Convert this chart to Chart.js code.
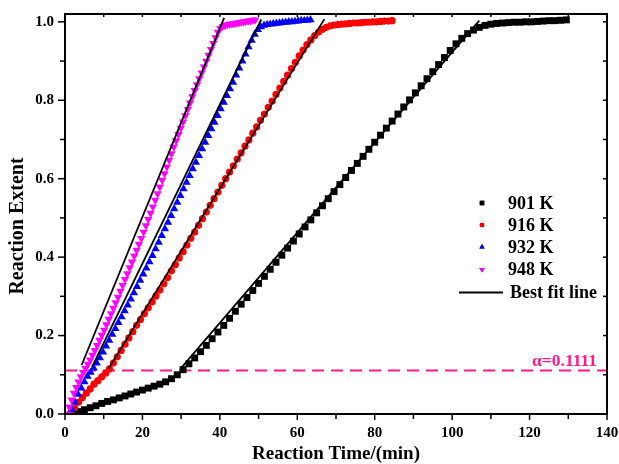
<!DOCTYPE html>
<html>
<head>
<meta charset="utf-8">
<script src="https://cdn.jsdelivr.net/npm/chart.js@4.4.0/dist/chart.umd.min.js"></script>
<style>
  html, body { margin: 0; padding: 0; background: #fff; }
  #wrap { width: 619px; height: 464px; position: relative; }
</style>
</head>
<body>
<div id="wrap"><canvas id="c"></canvas></div>
<script>
/* ===== 1. DATA ====================================================== */
const xRange = [0, 140];
const yRange = [0, 1.02];
const xTicks = [0, 10, 20, 30, 40, 50, 60, 70, 80, 90, 100, 110, 120, 130, 140];
const yTicks = [0, 0.1, 0.2, 0.3, 0.4, 0.5, 0.6, 0.7, 0.8, 0.9, 1.0];
const alphaLevel = 0.1111;
const seriesLabels = ['901 K', '916 K', '932 K', '948 K'];
const fitLabel = 'Best fit line';
const alphaLabel = 'α=0.1111';
const xTitle = 'Reaction Time/(min)';
const yTitle = 'Reaction Extent';

// [time (min), reaction extent]
const k901 = [
  [2.0,0.000],[3.5,0.006],[5.0,0.011],[6.5,0.016],[8.0,0.021],[9.5,0.027],[11.0,0.032],[12.5,0.036],
  [14.0,0.041],[15.5,0.046],[17.0,0.051],[18.5,0.056],[20.0,0.061],[21.5,0.066],[23.0,0.071],[24.5,0.076],
  [26.0,0.082],[27.5,0.090],[29.0,0.100],[30.5,0.113],[32.0,0.128],[33.5,0.143],[35.0,0.159],[36.5,0.175],
  [38.0,0.192],[39.5,0.209],[41.0,0.226],[42.5,0.244],[44.0,0.262],[45.5,0.280],[47.0,0.297],[48.5,0.315],
  [50.0,0.333],[51.5,0.351],[53.0,0.369],[54.5,0.387],[56.0,0.405],[57.5,0.423],[59.0,0.441],[60.5,0.459],
  [62.0,0.477],[63.5,0.495],[65.0,0.513],[66.5,0.531],[68.0,0.549],[69.5,0.567],[71.0,0.585],[72.5,0.603],
  [74.0,0.621],[75.5,0.639],[77.0,0.657],[78.5,0.675],[80.0,0.693],[81.5,0.711],[83.0,0.729],[84.5,0.747],
  [86.0,0.765],[87.5,0.783],[89.0,0.801],[90.5,0.819],[92.0,0.837],[93.5,0.855],[95.0,0.873],[96.5,0.891],
  [98.0,0.909],[99.5,0.927],[101.0,0.944],[102.5,0.958],[104.0,0.970],[105.5,0.979],[107.0,0.986],[108.5,0.991],
  [110.0,0.994],[111.5,0.996],[113.0,0.997],[114.5,0.998],[116.0,0.999],[117.5,0.999],[119.0,1.000],[120.5,1.000],
  [122.0,1.001],[123.5,1.002],[125.0,1.003],[126.5,1.003],[128.0,1.004],[129.5,1.005]
];
const k916 = [
  [1.5,0.002],[2.5,0.015],[3.5,0.030],[4.5,0.042],[5.5,0.053],[6.5,0.064],[7.5,0.076],[8.5,0.085],
  [9.5,0.095],[10.5,0.104],[11.5,0.115],[12.5,0.130],[13.5,0.146],[14.5,0.162],[15.5,0.178],[16.5,0.194],
  [17.5,0.210],[18.5,0.226],[19.5,0.241],[20.5,0.256],[21.5,0.271],[22.5,0.286],[23.5,0.301],[24.5,0.316],
  [25.5,0.332],[26.5,0.348],[27.5,0.365],[28.5,0.381],[29.5,0.398],[30.5,0.414],[31.5,0.431],[32.5,0.448],
  [33.5,0.464],[34.5,0.481],[35.5,0.498],[36.5,0.515],[37.5,0.532],[38.5,0.549],[39.5,0.566],[40.5,0.583],
  [41.5,0.600],[42.5,0.617],[43.5,0.633],[44.5,0.650],[45.5,0.666],[46.5,0.683],[47.5,0.699],[48.5,0.716],
  [49.5,0.732],[50.5,0.749],[51.5,0.765],[52.5,0.782],[53.5,0.798],[54.5,0.815],[55.5,0.831],[56.5,0.848],
  [57.5,0.864],[58.5,0.881],[59.5,0.897],[60.5,0.913],[61.5,0.928],[62.5,0.942],[63.5,0.954],[64.5,0.965],
  [65.5,0.974],[66.5,0.981],[67.5,0.986],[68.5,0.990],[69.5,0.992],[70.5,0.993],[71.5,0.994],[72.5,0.995],
  [73.5,0.996],[74.5,0.997],[75.5,0.997],[76.5,0.998],[77.5,0.999],[78.5,0.999],[79.5,1.000],[80.5,1.000],
  [81.5,1.001],[82.5,1.002],[83.5,1.002],[84.5,1.003]
];
const k932 = [
  [1.0,0.000],[1.8,0.012],[2.6,0.030],[3.4,0.050],[4.2,0.066],[5.0,0.082],[5.8,0.096],[6.6,0.106],
  [7.4,0.117],[8.2,0.130],[9.0,0.143],[9.8,0.158],[10.6,0.173],[11.4,0.188],[12.2,0.203],[13.0,0.218],
  [13.8,0.233],[14.6,0.248],[15.4,0.263],[16.2,0.278],[17.0,0.293],[17.8,0.309],[18.6,0.325],[19.4,0.341],
  [20.2,0.357],[21.0,0.372],[21.8,0.388],[22.6,0.404],[23.4,0.421],[24.2,0.438],[25.0,0.455],[25.8,0.472],
  [26.6,0.489],[27.4,0.506],[28.2,0.523],[29.0,0.540],[29.8,0.557],[30.6,0.574],[31.4,0.591],[32.2,0.608],
  [33.0,0.625],[33.8,0.642],[34.6,0.659],[35.4,0.676],[36.2,0.693],[37.0,0.710],[37.8,0.727],[38.6,0.744],
  [39.4,0.761],[40.2,0.778],[41.0,0.795],[41.8,0.812],[42.6,0.829],[43.4,0.846],[44.2,0.864],[45.0,0.882],
  [45.8,0.900],[46.6,0.918],[47.4,0.936],[48.2,0.953],[49.0,0.968],[49.8,0.980],[50.6,0.987],[51.4,0.991],
  [52.2,0.993],[53.0,0.994],[53.8,0.995],[54.6,0.996],[55.4,0.997],[56.2,0.998],[57.0,0.999],[57.8,1.000],
  [58.6,1.000],[59.4,1.001],[60.2,1.002],[61.0,1.003],[61.8,1.003],[62.6,1.004],[63.4,1.005]
];
const k948 = [
  [0.5,0.000],[1.1,0.018],[1.7,0.036],[2.3,0.053],[2.9,0.068],[3.5,0.082],[4.1,0.095],[4.7,0.106],
  [5.3,0.116],[5.9,0.127],[6.5,0.138],[7.1,0.150],[7.7,0.162],[8.3,0.175],[8.9,0.188],[9.5,0.201],
  [10.1,0.214],[10.7,0.228],[11.3,0.242],[11.9,0.256],[12.5,0.270],[13.1,0.284],[13.7,0.298],[14.3,0.313],
  [14.9,0.328],[15.5,0.343],[16.1,0.358],[16.7,0.373],[17.3,0.388],[17.9,0.403],[18.5,0.418],[19.1,0.433],
  [19.7,0.448],[20.3,0.464],[20.9,0.480],[21.5,0.496],[22.1,0.512],[22.7,0.528],[23.3,0.545],[23.9,0.562],
  [24.5,0.579],[25.1,0.596],[25.7,0.613],[26.3,0.630],[26.9,0.647],[27.5,0.664],[28.1,0.681],[28.7,0.697],
  [29.3,0.713],[29.9,0.729],[30.5,0.745],[31.1,0.761],[31.7,0.777],[32.3,0.793],[32.9,0.809],[33.5,0.825],
  [34.1,0.840],[34.7,0.855],[35.3,0.870],[35.9,0.885],[36.5,0.900],[37.1,0.915],[37.7,0.930],[38.3,0.945],
  [38.9,0.960],[39.5,0.974],[40.1,0.983],[40.7,0.988],[41.3,0.991],[41.9,0.993],[42.5,0.994],[43.1,0.995],
  [43.7,0.996],[44.3,0.997],[44.9,0.998],[45.5,0.999],[46.1,1.000],[46.7,1.001],[47.3,1.002],[47.9,1.003],
  [48.5,1.004],[49.1,1.005]
];

// best-fit line end points
const fit901 = [[29.8,0.115],[107.0,1.003]];
const fit916 = [[11.2,0.115],[67.0,1.007]];
const fit932 = [[7.0,0.120],[50.7,1.006]];
const fit948 = [[4.3,0.125],[41.1,1.010]];

/* ===== 2. STYLE ===================================================== */
const FONT = '"Liberation Serif", "Times New Roman", serif';
const colors = ['#000000', '#ff0000', '#0000ff', '#ff00ff'];
const markers = [
  { pointStyle: 'rect',     radius: 4.9, rotation: 0 },
  { pointStyle: 'circle',   radius: 3.6, rotation: 0 },
  { pointStyle: 'triangle', radius: 4.8, rotation: 0 },
  { pointStyle: 'triangle', radius: 4.8, rotation: 180 }
];
const alphaColor = '#ff1a8c';

const toXY = arr => arr.map(([x, y]) => ({ x, y }));
const isStep = (v, step) => Math.abs(v / step - Math.round(v / step)) < 1e-6;

/* ===== 3. DATASETS ================================================== */
const fitSets = [fit948, fit932, fit916, fit901].map(f => ({
  label: fitLabel,
  data: toXY(f),
  showLine: true,
  borderColor: '#000',
  borderWidth: 1.8,
  pointRadius: 0,
  fill: false
}));

const scatterSets = [k901, k916, k932, k948].map((s, i) => ({
  label: seriesLabels[i],
  data: toXY(s),
  showLine: false,
  pointStyle: markers[i].pointStyle,
  pointRadius: markers[i].radius,
  pointRotation: markers[i].rotation,
  pointBackgroundColor: colors[i],
  pointBorderColor: colors[i],
  pointBorderWidth: 0
})).reverse();     // 948 K drawn on top of the rest

const alphaSet = {
  label: 'alpha',
  data: toXY([[xRange[0], alphaLevel], [xRange[1], alphaLevel]]),
  showLine: true,
  borderColor: alphaColor,
  borderWidth: 2,
  borderDash: [12, 7],
  pointRadius: 0
};

/* ===== 4. PLUGINS: frame + ticks, titles, legend, alpha label ====== */
const frameTicks = {
  id: 'frameTicks',
  afterDraw(chart) {
    const { ctx, chartArea: a, scales: { x, y } } = chart;
    ctx.save();
    ctx.strokeStyle = '#000';
    ctx.lineWidth = 1.5;
    const seg = (x1, y1, x2, y2) => { ctx.beginPath(); ctx.moveTo(x1, y1); ctx.lineTo(x2, y2); ctx.stroke(); };

    xTicks.forEach(v => {
      const major = isStep(v, 20);
      const px = x.getPixelForValue(v);
      seg(px, a.bottom, px, a.bottom + (major ? 6 : 5));
      seg(px, a.top, px, a.top + 3);
    });
    yTicks.forEach(v => {
      const major = isStep(v, 0.2);
      const py = y.getPixelForValue(v);
      seg(a.left - (major ? 7 : 5), py, a.left, py);
      seg(a.right - 4, py, a.right, py);
    });

    ctx.lineWidth = 2;
    ctx.strokeRect(a.left, a.top, a.right - a.left, a.bottom - a.top);

    // y axis title, centred a little below the middle as in the reference
    ctx.fillStyle = '#000';
    ctx.font = 'bold 20px ' + FONT;
    ctx.textAlign = 'center';
    ctx.textBaseline = 'middle';
    ctx.translate(18, 226);
    ctx.rotate(-Math.PI / 2);
    ctx.fillText(yTitle, 0, 0);
    ctx.restore();
  }
};

const alphaText = {
  id: 'alphaText',
  afterDatasetsDraw(chart) {
    const { ctx, scales: { x, y } } = chart;
    ctx.save();
    ctx.fillStyle = alphaColor;
    ctx.font = 'bold 17.5px ' + FONT;
    ctx.textAlign = 'right';
    ctx.textBaseline = 'alphabetic';
    ctx.fillText(alphaLabel, x.getPixelForValue(xRange[1]) - 10, y.getPixelForValue(alphaLevel) - 4);
    ctx.restore();
  }
};

const customLegend = {
  id: 'customLegend',
  afterDraw(chart) {
    const { ctx } = chart;
    const rows = [203, 225, 247, 269.5, 292.5];
    ctx.save();
    ctx.font = 'bold 18px ' + FONT;
    ctx.textBaseline = 'middle';
    ctx.textAlign = 'left';
    seriesLabels.forEach((lab, i) => {
      Chart.helpers.drawPoint(ctx, {
        pointStyle: markers[i].pointStyle,
        radius: markers[i].radius * 0.65,
        rotation: markers[i].rotation,
        borderWidth: 0
      }, 482, rows[i]);
      ctx.fillStyle = colors[i];
      ctx.fill();
      ctx.fillStyle = '#000';
      ctx.fillText(lab, 508, rows[i] + 1);
    });
    ctx.strokeStyle = '#000';
    ctx.lineWidth = 2;
    ctx.beginPath();
    ctx.moveTo(459, rows[4]);
    ctx.lineTo(503, rows[4]);
    ctx.stroke();
    ctx.fillText(fitLabel, 510, rows[4] + 1);
    ctx.restore();
  }
};

/* ===== 5. CHART ===================================================== */
new Chart(document.getElementById('c'), {
  type: 'scatter',
  data: { datasets: [...fitSets, ...scatterSets, alphaSet] },
  options: {
    responsive: true,
    maintainAspectRatio: false,
    animation: false,
    layout: { padding: { top: 13, right: 12, left: 0, bottom: 0 } },
    plugins: { legend: { display: false }, tooltip: { enabled: false } },
    scales: {
      x: {
        type: 'linear',
        min: xRange[0], max: xRange[1],
        afterBuildTicks: s => { s.ticks = xTicks.map(v => ({ value: v })); },
        afterFit: s => { s.height = 50; s.paddingLeft = 0; s.paddingRight = 0; },
        grid: { display: true, drawOnChartArea: false, drawTicks: true, tickLength: 6, color: 'rgba(0,0,0,0)' },
        border: { display: false },
        ticks: {
          autoSkip: false, maxRotation: 0, padding: 4,
          color: '#000', font: { family: FONT, size: 15, weight: 'bold' },
          callback: v => isStep(v, 20) ? String(Math.round(v)) : ''
        },
        title: {
          display: true, text: xTitle, color: '#000',
          font: { family: FONT, size: 19, weight: 'bold', lineHeight: 1 }, padding: { top: 0, bottom: 0 }
        }
      },
      y: {
        type: 'linear',
        min: yRange[0], max: yRange[1],
        afterBuildTicks: s => { s.ticks = yTicks.map(v => ({ value: v })); },
        afterFit: s => { s.width = 65; },
        grid: { display: true, drawOnChartArea: false, drawTicks: true, tickLength: 6, color: 'rgba(0,0,0,0)' },
        border: { display: false },
        ticks: {
          autoSkip: false, padding: 5,
          color: '#000', font: { family: FONT, size: 15, weight: 'bold' },
          callback: v => isStep(v, 0.2) ? v.toFixed(1) : ''
        }
      }
    }
  },
  plugins: [frameTicks, alphaText, customLegend]
});
</script>
</body>
</html>
